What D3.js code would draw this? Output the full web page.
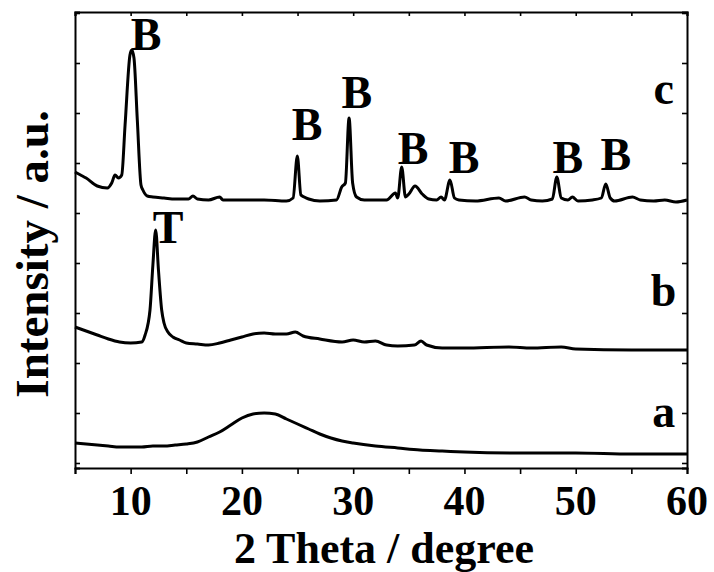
<!DOCTYPE html>
<html>
<head>
<meta charset="utf-8">
<script src="https://cdn.jsdelivr.net/npm/d3@7/dist/d3.min.js"></script>
<style>
  body { margin: 0; background: #fff; }
  svg { display: block; font-family: "Liberation Serif", "Times New Roman", serif; font-weight: bold; }
</style>
</head>
<body>
<svg id="chart"></svg>
<script>
// XRD patterns, curves stacked (arbitrary units)
const thetaA = [5, 6, 7, 8, 9, 10, 11, 12, 13, 14,
  15, 16, 17, 18, 19, 20, 21, 22, 23, 24,
  25, 26, 27, 28, 29, 30, 32, 34, 36, 38,
  40, 45, 50, 55, 60];
const intensityA = [250, 240, 230, 220, 210, 210, 210, 220, 220, 230,
  240, 260, 310, 360, 430, 500, 540, 550, 540, 490,
  440, 390, 340, 300, 270, 250, 220, 200, 180, 170,
  160, 150, 150, 140, 140];

const thetaB = [5, 6, 7, 8, 9, 10, 11, 11.3, 11.74, 12.0,
  12.25, 12.5, 12.79, 13.0, 13.35, 13.8, 14.4, 15, 16, 17,
  18, 19, 20, 21, 22, 23, 24, 24.8, 25.5, 27,
  29, 30, 31, 32, 33, 34, 35.5, 36.1, 36.6, 38,
  40, 44, 46, 48.7, 50, 55, 60];
const intensityB = [1410, 1370, 1330, 1290, 1260, 1250, 1260, 1330, 1580, 2030,
  2380, 1980, 1580, 1450, 1360, 1310, 1280, 1250, 1240, 1230,
  1250, 1280, 1310, 1340, 1350, 1340, 1340, 1360, 1320, 1290,
  1260, 1280, 1260, 1270, 1230, 1220, 1230, 1270, 1230, 1200,
  1200, 1210, 1200, 1210, 1190, 1180, 1180];

const thetaC = [5, 5.5, 6, 7, 7.9, 8.3, 8.6, 8.9, 9.2, 9.5,
  9.94, 10.1, 10.3, 10.6, 10.93, 11.1, 11.5, 12, 13, 14,
  15.2, 15.6, 16, 17, 18, 18.3, 20, 22, 24, 24.6,
  24.98, 25.3, 25.6, 26, 27, 28.5, 28.97, 29.3, 29.63, 29.95,
  30.3, 31, 33, 33.8, 34.0, 34.36, 34.7, 35.0, 35.56, 36.2,
  36.8, 37.5, 37.9, 38.2, 38.7, 39.1, 39.5, 41, 43.1, 43.7,
  45.4, 46, 47, 47.9, 48.3, 48.7, 49.3, 49.7, 50.2, 51.5,
  52.3, 52.7, 53.1, 53.5, 55.1, 55.8, 57, 58, 59, 60];
const intensityC = [2960, 2930, 2900, 2820, 2800, 2850, 2930, 2900, 2930, 3430,
  4130, 4180, 4100, 3480, 2830, 2780, 2720, 2710, 2700, 2690,
  2690, 2720, 2690, 2680, 2710, 2680, 2680, 2680, 2670, 2700,
  3120, 2730, 2710, 2690, 2670, 2680, 2810, 2850, 3500, 2850,
  2710, 2680, 2680, 2750, 2700, 3010, 2710, 2740, 2820, 2740,
  2690, 2680, 2710, 2680, 2880, 2700, 2680, 2670, 2700, 2670,
  2710, 2680, 2670, 2690, 2910, 2700, 2680, 2710, 2670, 2680,
  2700, 2840, 2700, 2670, 2710, 2680, 2670, 2680, 2660, 2680];

// peak markers
const peakText = ["B", "B", "B", "B", "B", "B", "B", "T"];
const peakTheta = [11.38, 25.85, 30.34, 35.38, 39.96, 49.3, 53.6, 13.36];
const peakIntensity = [4180, 3280, 3600, 3040, 2950, 2950, 2980, 2250];

const sampleNames = ["a", "b", "c"];
const sampleLabelIntensity = [410, 1620, 3640];
const sampleLabelTheta = 57.9;

const xTicks = [5, 10, 15, 20, 25, 30, 35, 40, 45, 50, 55, 60];
const xTickLabels = [10, 20, 30, 40, 50, 60];
const yTicks = [50, 550, 1050, 1550, 2050, 2550, 3050, 3550, 4050, 4550];

const W = 714, H = 572;
const margin = { top: 12, right: 27, bottom: 104, left: 75 };
const width = W - margin.left - margin.right;
const height = H - margin.top - margin.bottom;

const svg = d3.select("#chart").attr("width", W).attr("height", H);
const g = svg.append("g").attr("transform", "translate(" + margin.left + "," + margin.top + ")");

const x = d3.scaleLinear().domain([5, 60]).range([0, width]);
const y = d3.scaleLinear().domain([0, 4560]).range([height, 0]);

// frame + ticks
g.append("g")
  .attr("transform", "translate(0," + height + ")")
  .call(d3.axisBottom(x).tickValues(xTicks).tickSize(6).tickFormat(""));
g.append("g")
  .call(d3.axisTop(x).tickValues(xTicks).tickSize(-4).tickFormat(""));
g.append("g")
  .call(d3.axisLeft(y).tickValues(yTicks).tickSize(-5).tickFormat(""));
g.append("g")
  .attr("transform", "translate(" + width + ",0)")
  .call(d3.axisRight(y).tickValues(yTicks).tickSize(-5).tickFormat(""));
g.selectAll(".domain").attr("stroke", "#000").attr("stroke-width", 2);
g.selectAll(".tick line").attr("stroke", "#000").attr("stroke-width", 1.6);

// x tick labels
g.selectAll(".xlab")
  .data(xTickLabels)
  .enter()
  .append("text")
  .attr("x", d => x(d))
  .attr("y", height + 47)
  .attr("text-anchor", "middle")
  .attr("font-size", 42)
  .text(d => d);

// curves
const line = d3.line()
  .curve(d3.curveMonotoneX)
  .x(d => x(d[0]))
  .y(d => y(d[1]));

[[thetaA, intensityA], [thetaB, intensityB], [thetaC, intensityC]].forEach(s => {
  g.append("path")
    .datum(d3.zip(s[0], s[1]))
    .attr("fill", "none")
    .attr("stroke", "#000")
    .attr("stroke-width", 3)
    .attr("stroke-linejoin", "round")
    .attr("d", line);
});

// peak labels
g.selectAll(".peak")
  .data(peakText)
  .enter()
  .append("text")
  .attr("x", (d, i) => x(peakTheta[i]))
  .attr("y", (d, i) => y(peakIntensity[i]))
  .attr("text-anchor", "middle")
  .attr("font-size", 46)
  .text(d => d);

g.selectAll(".sample")
  .data(sampleNames)
  .enter()
  .append("text")
  .attr("x", x(sampleLabelTheta))
  .attr("y", (d, i) => y(sampleLabelIntensity[i]))
  .attr("text-anchor", "middle")
  .attr("font-size", 46)
  .text(d => d);

// axis titles
svg.append("text")
  .attr("x", 384)
  .attr("y", 563)
  .attr("text-anchor", "middle")
  .attr("font-size", 44)
  .text("2 Theta / degree");

svg.append("text")
  .attr("transform", "translate(48,254) rotate(-90)")
  .attr("text-anchor", "middle")
  .attr("font-size", 47)
  .text("Intensity / a.u.");
</script>
</body>
</html>
